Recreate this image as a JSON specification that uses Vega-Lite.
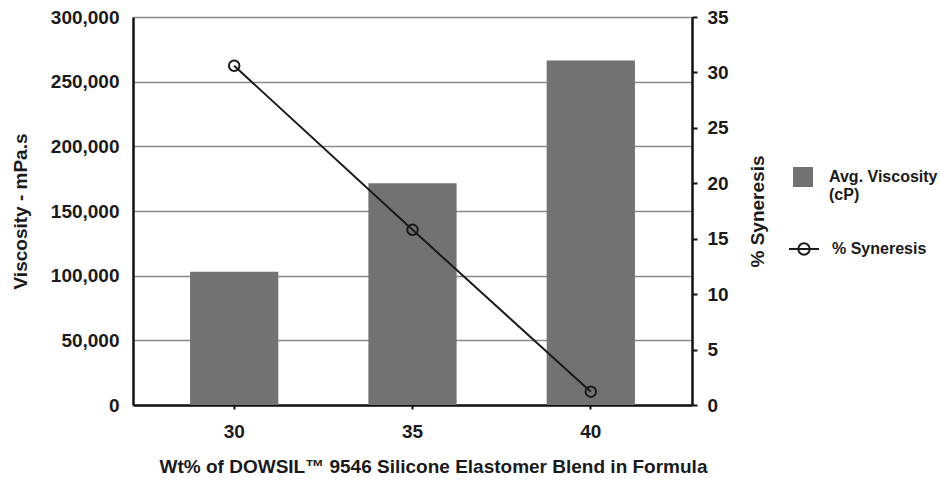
{
  "$schema": "https://vega.github.io/schema/vega-lite/v6.json",
  "width": 559,
  "height": 388,
  "autosize": "none",
  "padding": {"left": 133, "top": 17, "right": 248, "bottom": 82},
  "background": "white",
  "config": {
    "font": "Liberation Sans",
    "view": {"stroke": null},
    "axis": {
      "labelFont": "Liberation Sans",
      "labelFontSize": 19,
      "labelFontWeight": "bold",
      "labelColor": "#1a1a1a",
      "titleFont": "Liberation Sans",
      "titleFontSize": 19,
      "titleFontWeight": "bold",
      "titleColor": "#1a1a1a",
      "domainColor": "#111111",
      "domainWidth": 2.5,
      "tickColor": "#111111",
      "tickWidth": 2,
      "grid": false
    },
    "legend": {
      "labelFont": "Liberation Sans",
      "labelFontSize": 16,
      "labelFontWeight": "bold",
      "labelColor": "#1a1a1a",
      "padding": 0
    }
  },
  "data": {
    "values": [
      {"wt": "30", "viscosity": 103000, "syneresis": 30.6},
      {"wt": "35", "viscosity": 171400, "syneresis": 15.8},
      {"wt": "40", "viscosity": 266300, "syneresis": 1.2}
    ]
  },
  "encoding": {
    "x": {
      "field": "wt",
      "type": "ordinal",
      "scale": {"paddingInner": 0.505, "paddingOuter": 0.32},
      "axis": {
        "title": "Wt% of DOWSIL™ 9546 Silicone Elastomer Blend in Formula",
        "labelAngle": 0,
        "tickSize": 4,
        "labelPadding": 13,
        "titlePadding": 16,
        "titleX": 300
      }
    }
  },
  "layer": [
    {
      "mark": {"type": "bar"},
      "encoding": {
        "y": {
          "field": "viscosity",
          "type": "quantitative",
          "scale": {"domain": [0, 300000], "nice": false},
          "axis": {
            "title": "Viscosity - mPa.s",
            "orient": "left",
            "values": [0, 50000, 100000, 150000, 200000, 250000, 300000],
            "format": ",d",
            "ticks": false,
            "labelPadding": 14,
            "titlePadding": 20,
            "grid": true,
            "gridColor": "#8a8a8a",
            "gridWidth": 1.5
          }
        },
        "fill": {
          "datum": "Avg. Viscosity (cP)",
          "type": "nominal",
          "scale": {"range": ["#727272"]},
          "legend": {
            "title": null,
            "orient": "none",
            "legendX": 660,
            "legendY": 150,
            "symbolType": "square",
            "symbolSize": 400,
            "symbolStrokeWidth": 0,
            "labelOffset": 16,
            "labelExpr": "['Avg. Viscosity', '(cP)']"
          }
        }
      }
    },
    {
      "mark": {
        "type": "line",
        "strokeWidth": 2,
        "point": {"filled": false, "size": 110, "strokeWidth": 2}
      },
      "encoding": {
        "y": {
          "field": "syneresis",
          "type": "quantitative",
          "scale": {"domain": [0, 35], "nice": false},
          "axis": {
            "title": "% Syneresis",
            "orient": "right",
            "values": [0, 5, 10, 15, 20, 25, 30, 35],
            "tickSize": 5,
            "labelPadding": 10,
            "titlePadding": 20,
            "titleAngle": 270,
            "titleBaseline": "top"
          }
        },
        "stroke": {
          "datum": "% Syneresis",
          "type": "nominal",
          "scale": {"range": ["#1a1a1a"]},
          "legend": {
            "title": null,
            "orient": "none",
            "legendX": 655,
            "legendY": 216,
            "symbolType": "M-1,0L1,0M-0.38,0A0.38,0.38 0 1,1 0.38,0A0.38,0.38 0 1,1 -0.38,0",
            "symbolSize": 900,
            "symbolStrokeWidth": 2,
            "symbolFillColor": "transparent",
            "labelOffset": 12
          }
        }
      }
    }
  ],
  "resolve": {"scale": {"y": "independent"}}
}
